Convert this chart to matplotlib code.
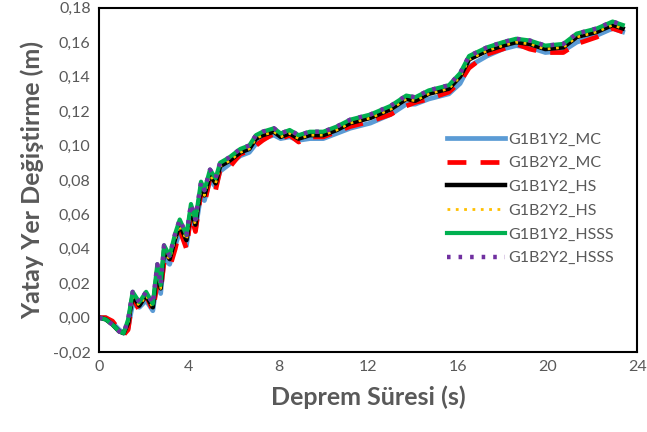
import matplotlib.pyplot as plt
from matplotlib.ticker import FuncFormatter

# zaman (s)
t = [0.0, 0.3, 0.6, 0.9, 1.1, 1.3, 1.5, 1.8, 2.1, 2.4, 2.6, 2.75, 2.9, 3.15,
     3.4, 3.6, 3.9, 4.1, 4.3, 4.55, 4.7, 4.95, 5.2, 5.4, 5.8, 6.3, 6.7, 7.0,
     7.3, 7.8, 8.1, 8.5, 8.9, 9.4, 10.0, 10.6, 11.2, 12.1, 13.0, 13.7, 14.1,
     14.7, 15.6, 16.1, 16.5, 17.3, 18.0, 18.6, 19.2, 19.9, 20.7, 21.3, 22.2,
     22.9, 23.35]

g1b1y2_mc = [0.000, 0.000, -0.003, -0.007, -0.009, -0.006, 0.008, 0.006, 0.010,
             0.004, 0.022, 0.014, 0.034, 0.031, 0.042, 0.050, 0.042, 0.059, 0.051,
             0.072, 0.068, 0.080, 0.076, 0.085, 0.089, 0.094, 0.096, 0.101, 0.104,
             0.106, 0.104, 0.105, 0.103, 0.104, 0.104, 0.107, 0.110, 0.113, 0.118,
             0.124, 0.124, 0.127, 0.130, 0.136, 0.146, 0.152, 0.156, 0.158, 0.157,
             0.154, 0.155, 0.160, 0.164, 0.168, 0.166]
g1b2y2_mc = [0.000, 0.000, -0.002, -0.007, -0.010, -0.007, 0.012, 0.004, 0.013,
             0.004, 0.020, 0.016, 0.032, 0.029, 0.040, 0.051, 0.040, 0.060, 0.050,
             0.073, 0.066, 0.081, 0.074, 0.086, 0.087, 0.095, 0.097, 0.100, 0.103,
             0.107, 0.104, 0.106, 0.102, 0.105, 0.105, 0.108, 0.111, 0.114, 0.118,
             0.123, 0.125, 0.127, 0.131, 0.137, 0.145, 0.153, 0.156, 0.159, 0.156,
             0.154, 0.154, 0.159, 0.163, 0.168, 0.166]
g1b1y2_hs = [0.000, -0.001, -0.004, -0.008, -0.009, -0.003, 0.013, 0.007, 0.013,
             0.006, 0.028, 0.017, 0.039, 0.034, 0.046, 0.054, 0.045, 0.063, 0.054,
             0.076, 0.071, 0.083, 0.078, 0.088, 0.091, 0.096, 0.098, 0.104, 0.106,
             0.108, 0.105, 0.107, 0.104, 0.106, 0.106, 0.109, 0.113, 0.116, 0.121,
             0.127, 0.126, 0.130, 0.133, 0.140, 0.150, 0.155, 0.158, 0.160, 0.159,
             0.156, 0.157, 0.163, 0.166, 0.170, 0.168]
g1b2y2_hs = [0.000, -0.001, -0.004, -0.008, -0.009, -0.003, 0.012, 0.007, 0.013,
             0.006, 0.027, 0.017, 0.038, 0.034, 0.046, 0.054, 0.045, 0.063, 0.054,
             0.076, 0.071, 0.083, 0.078, 0.088, 0.091, 0.096, 0.098, 0.104, 0.106,
             0.108, 0.105, 0.107, 0.104, 0.106, 0.106, 0.109, 0.113, 0.116, 0.121,
             0.127, 0.126, 0.130, 0.133, 0.140, 0.150, 0.155, 0.158, 0.160, 0.159,
             0.156, 0.157, 0.163, 0.166, 0.170, 0.168]
g1b1y2_hsss = [0.000, -0.001, -0.004, -0.008, -0.009, -0.001, 0.015, 0.009, 0.015,
               0.008, 0.031, 0.019, 0.042, 0.036, 0.049, 0.057, 0.048, 0.066, 0.057,
               0.079, 0.074, 0.086, 0.081, 0.090, 0.093, 0.098, 0.100, 0.106, 0.108,
               0.110, 0.107, 0.109, 0.106, 0.108, 0.108, 0.111, 0.115, 0.118, 0.123,
               0.129, 0.128, 0.132, 0.135, 0.142, 0.152, 0.157, 0.160, 0.162, 0.161,
               0.158, 0.159, 0.165, 0.168, 0.172, 0.170]
g1b2y2_hsss = [0.000, -0.001, -0.004, -0.008, -0.009, -0.001, 0.015, 0.009, 0.015,
               0.008, 0.031, 0.019, 0.042, 0.036, 0.049, 0.057, 0.048, 0.066, 0.057,
               0.079, 0.074, 0.086, 0.081, 0.090, 0.093, 0.098, 0.100, 0.106, 0.108,
               0.110, 0.107, 0.109, 0.106, 0.108, 0.108, 0.111, 0.115, 0.118, 0.123,
               0.129, 0.128, 0.132, 0.135, 0.142, 0.152, 0.157, 0.160, 0.162, 0.161,
               0.158, 0.159, 0.165, 0.168, 0.172, 0.170]

gray = '#595959'
plt.rcParams['font.family'] = ['Lato', 'DejaVu Sans']

fig = plt.figure(figsize=(6.47, 4.32), dpi=100)
ax = fig.add_axes([0.153, 0.185, 0.832, 0.797])

ax.plot(t, g1b1y2_mc, color='#5B9BD5', lw=3.4, label='G1B1Y2_MC')
ax.plot(t, g1b2y2_mc, color='#FF0000', lw=3.4, dashes=(4, 3), label='G1B2Y2_MC')
ax.plot(t, g1b1y2_hs, color='black', lw=3.2, label='G1B1Y2_HS')
ax.plot(t, g1b2y2_hs, color='#FFC000', lw=2.0, dashes=(1, 2), label='G1B2Y2_HS')
ax.plot(t, g1b1y2_hsss, color='#00B050', lw=3.0, label='G1B1Y2_HSSS')
ax.plot(t, g1b2y2_hsss, color='#7030A0', lw=3.2, dashes=(0.8, 1.8), label='G1B2Y2_HSSS')

ax.set_xlim(0, 24)
ax.set_ylim(-0.02, 0.18)
ax.set_xticks(range(0, 25, 4))
ax.set_yticks([i * 0.02 for i in range(-1, 10)])
ax.yaxis.set_major_formatter(FuncFormatter(lambda v, p: f'{v:.2f}'.replace('.', ',')))
ax.tick_params(length=0, labelsize=11.5, colors=gray, pad=6)
for s in ax.spines.values():
    s.set_color('black')
    s.set_linewidth(1.5)

ax.set_xlabel('Deprem Süresi (s)', fontsize=18, fontweight='bold', color=gray, labelpad=8)
ax.set_ylabel('Yatay Yer Değiştirme (m)', fontsize=18, fontweight='bold', color=gray, labelpad=6)

leg = ax.legend(loc='upper left', bbox_to_anchor=(0.62, 0.68), frameon=False,
                fontsize=11.5, handlelength=3.6, labelspacing=0.6, handletextpad=0.2)
for txt in leg.get_texts():
    txt.set_color(gray)

fig.savefig('out.png', dpi=100)
